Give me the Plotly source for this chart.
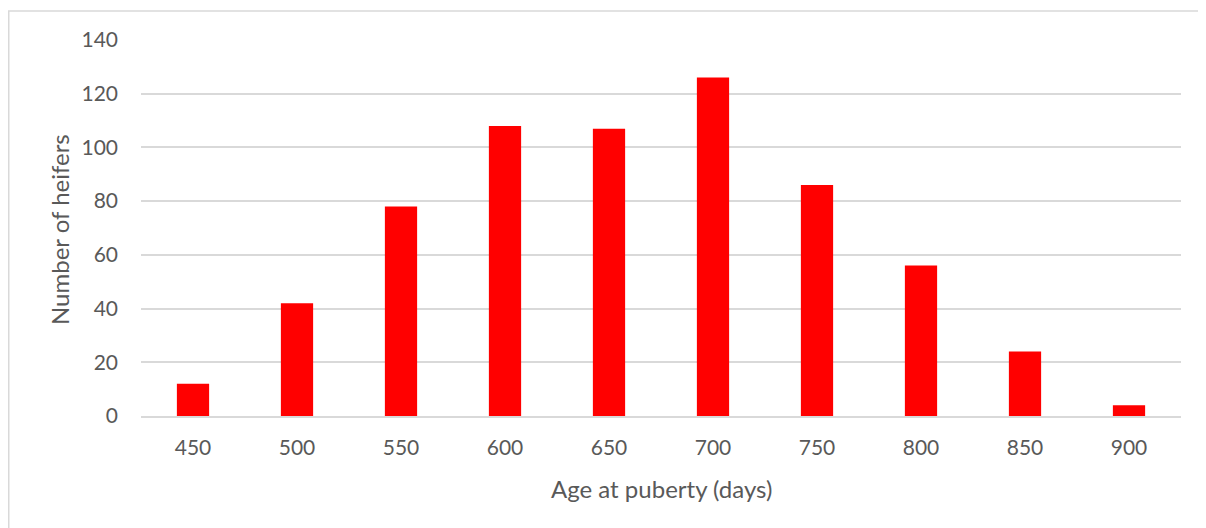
import plotly.graph_objects as go

ages = ["450", "500", "550", "600", "650", "700", "750", "800", "850", "900"]
counts = [12, 42, 78, 108, 107, 126, 86, 56, 24, 4]
y_ticks = [0, 20, 40, 60, 80, 100, 120, 140]

# page body has an 8px margin, so the figure is sized/offset to compensate
W, H = 1198, 520
L, R, T, B = 133, 25, 32, 112
pw, ph = W - L - R, H - T - B

fig = go.Figure(go.Bar(x=ages, y=counts, marker=dict(color="#ff0000", line=dict(width=0)),
                       hoverinfo="x+y"))

font = "Lato, 'Open Sans', sans-serif"
grey = "#595959"
bx0 = (0.75 - L) / pw
bx1 = (W + 40 - L) / pw
by0 = (H - B - (H + 40)) / ph
by1 = (H - B - 3) / ph
fig.update_layout(
    width=W, height=H,
    margin=dict(l=L, r=R, t=T, b=B, autoexpand=False),
    paper_bgcolor="white", plot_bgcolor="white",
    bargap=0.69,
    showlegend=False,
    font=dict(family=font, color=grey, size=21),
    xaxis=dict(
        type="category", showgrid=False, showline=True, linecolor="#d9d9d9", linewidth=1.5,
        ticks="", tickfont=dict(size=21, color=grey), automargin=False,
        ticklabelstandoff=12,
    ),
    yaxis=dict(
        range=[0, 140], tickvals=y_ticks, showgrid=True, gridcolor="#d9d9d9", gridwidth=1.5,
        zeroline=False, showline=False, ticks="", automargin=False,
        tickfont=dict(size=21, color=grey), ticklabelstandoff=22,
    ),
    annotations=[
        dict(text="Age at puberty (days)", xref="paper", yref="paper", x=0.5, y=(H - B - 481) / ph,
             showarrow=False, xanchor="center", yanchor="middle", font=dict(size=24, color=grey)),
        dict(text="Number of heifers", xref="paper", yref="paper", x=(52 - L) / pw, y=(H - B - 222) / ph,
             showarrow=False, xanchor="center", yanchor="middle", textangle=-90,
             font=dict(size=24, color=grey)),
    ],
    shapes=[dict(type="path", xref="paper", yref="paper",
                 path=f"M {bx0} {by0} L {bx0} {by1} L {bx1} {by1}",
                 line=dict(color="#d9d9d9", width=1.5), layer="below")],
)

fig.write_html("out.html")
